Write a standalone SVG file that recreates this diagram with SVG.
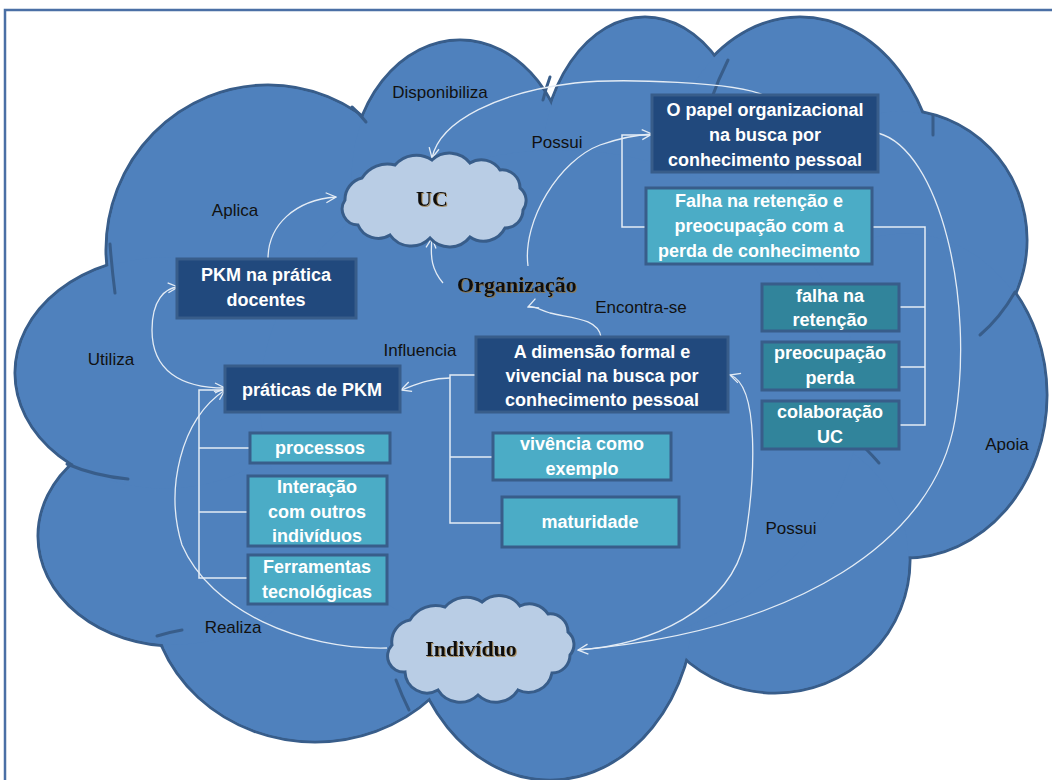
<svg xmlns="http://www.w3.org/2000/svg" width="1052" height="780" viewBox="0 0 1052 780">
  <style>
    .lobe-edge { fill: #4F81BD; stroke: #385D8A; stroke-width: 3; }
    .lobe-fill { fill: #4F81BD; stroke: none; }
    .seam { fill: none; stroke: #385D8A; stroke-width: 3; stroke-linecap: round; }
    .small-cloud { fill: #B9CDE5; stroke: #385D8A; stroke-width: 3; }
    .box-dark { fill: #21497D; stroke: #385D8A; stroke-width: 3; }
    .box-aqua { fill: #4BACC6; stroke: #385D8A; stroke-width: 3; }
    .box-teal { fill: #31849B; stroke: #385D8A; stroke-width: 3; }
    .box-text { font-family: "Liberation Sans", Arial, sans-serif; font-weight: bold; font-size: 18px; fill: #FFFFFF; text-anchor: middle; }
    .label { font-family: "Liberation Sans", Arial, sans-serif; font-size: 17px; fill: #111111; text-anchor: middle; }
    .cloud-label { font-family: "Liberation Serif", "Times New Roman", serif; font-weight: bold; font-size: 22px; fill: #111111; text-anchor: middle; }
    .tree { fill: none; stroke: #E4ECF5; stroke-width: 1.5; }
    .flow { fill: none; stroke: #E4ECF5; stroke-width: 1.3; marker-end: url(#open-arrow); }
  </style>
  <defs>
    <marker id="open-arrow" viewBox="0 0 12 12" refX="11" refY="6" markerWidth="12" markerHeight="12" markerUnits="userSpaceOnUse" orient="auto-start-reverse">
      <path d="M1,1 L11,6 L1,11" fill="none" stroke="#E4ECF5" stroke-width="1.3"/>
    </marker>
    <filter id="warm-shadow" x="-10%" y="-20%" width="130%" height="150%">
      <feDropShadow dx="1" dy="1" stdDeviation="0.6" flood-color="#9C7434" flood-opacity="0.7"/>
    </filter>
  </defs>

  <rect x="0" y="0" width="1052" height="780" fill="#FFFFFF"/>
  <!-- frame -->
  <path d="M5,780 V10 H1052" fill="none" stroke="#4A6FA5" stroke-width="2.5"/>

  <!-- large background cloud: outlined lobes, then their fills to merge the interior -->
  <g id="big-cloud">
    <g>
      <ellipse class="lobe-edge" cx="268" cy="250" rx="162" ry="165"/>
      <ellipse class="lobe-edge" cx="460" cy="180" rx="110" ry="140"/>
      <ellipse class="lobe-edge" cx="645" cy="170" rx="105" ry="153"/>
      <ellipse class="lobe-edge" cx="800" cy="200" rx="140" ry="183"/>
      <ellipse class="lobe-edge" cx="900" cy="240" rx="127" ry="130"/>
      <ellipse class="lobe-edge" cx="905" cy="395" rx="142" ry="163"/>
      <ellipse class="lobe-edge" cx="775" cy="560" rx="135" ry="133"/>
      <ellipse class="lobe-edge" cx="550" cy="600" rx="145" ry="180"/>
      <ellipse class="lobe-edge" cx="315" cy="590" rx="165" ry="152"/>
      <ellipse class="lobe-edge" cx="175" cy="536" rx="137" ry="110"/>
      <ellipse class="lobe-edge" cx="165" cy="373" rx="150" ry="117"/>
    </g>
    <g>
      <ellipse class="lobe-fill" cx="268" cy="250" rx="160.5" ry="163.5"/>
      <ellipse class="lobe-fill" cx="460" cy="180" rx="108.5" ry="138.5"/>
      <ellipse class="lobe-fill" cx="645" cy="170" rx="103.5" ry="151.5"/>
      <ellipse class="lobe-fill" cx="800" cy="200" rx="138.5" ry="181.5"/>
      <ellipse class="lobe-fill" cx="900" cy="240" rx="125.5" ry="128.5"/>
      <ellipse class="lobe-fill" cx="905" cy="395" rx="140.5" ry="161.5"/>
      <ellipse class="lobe-fill" cx="775" cy="560" rx="133.5" ry="131.5"/>
      <ellipse class="lobe-fill" cx="550" cy="600" rx="143.5" ry="178.5"/>
      <ellipse class="lobe-fill" cx="315" cy="590" rx="163.5" ry="150.5"/>
      <ellipse class="lobe-fill" cx="175" cy="536" rx="135.5" ry="108.5"/>
      <ellipse class="lobe-fill" cx="165" cy="373" rx="148.5" ry="115.5"/>
      <ellipse class="lobe-fill" cx="560" cy="400" rx="300" ry="250"/>
    </g>
    <!-- inner seams where lobes meet -->
    <path class="seam" d="M352,107 Q360,114 366,122"/>
    <path class="seam" d="M550,77 Q546,88 543,100"/>
    <path class="seam" d="M728,60 Q718,80 711,100"/>
    <path class="seam" d="M933,115 L933,135"/>
    <path class="seam" d="M1015,292 Q1000,318 980,335"/>
    <path class="seam" d="M110,244 Q112,270 115,293"/>
    <path class="seam" d="M67,464 Q95,476 128,479"/>
    <path class="seam" d="M157,636 Q170,632 182,630"/>
    <path class="seam" d="M396,680 Q402,696 409,710"/>
    <path class="seam" d="M866,449 Q872,455 879,463"/>
  </g>

  <!-- connectors -->
  <g id="connectors">
    <path class="tree" d="M652,135 H622 V227 H646"/>
    <path class="tree" d="M872,227 H925 V425 H899 M899,307 H925 M899,367 H925"/>
    <path class="tree" d="M476,375 H450 V523 H502 M450,457 H493"/>
    <path class="tree" d="M225,390 H199 V578 H248 M199,448 H250 M199,512 H248"/>

    <path class="flow" d="M765,96 C740,82 620,78 575,83 C500,92 440,120 432,158"/>
    <path class="flow" d="M528,266 C522,220 560,160 600,145 C620,138 635,135 652,134"/>
    <path class="flow" d="M268,259 C268,225 295,200 336,197"/>
    <path class="flow" d="M443,283 C432,270 430,258 432,238"/>
    <path class="flow" d="M601,337 C598,318 570,318 550,313 C540,310 533,305 528,307"/>
    <path class="flow" d="M450,378 C430,378 415,385 401,390"/>
    <path class="flow" d="M178,287 C165,288 152,300 152,330 C152,370 180,388 225,388" marker-start="url(#open-arrow)"/>
    <path class="flow" d="M387,648 C300,650 210,610 182,545 C165,490 180,420 225,390"/>
    <path class="flow" d="M878,133 C940,150 975,300 955,420 C935,540 800,630 578,650"/>
    <path class="flow" d="M578,650 C650,645 730,610 745,540 C755,480 760,385 730,375"/>
  </g>

  <!-- connector labels -->
  <g id="labels">
    <text class="label" x="440" y="98">Disponibiliza</text>
    <text class="label" x="557" y="148">Possui</text>
    <text class="label" x="235" y="216">Aplica</text>
    <text class="label" x="641" y="313">Encontra-se</text>
    <text class="label" x="420" y="356">Influencia</text>
    <text class="label" x="111" y="365">Utiliza</text>
    <text class="label" x="1007" y="450">Apoia</text>
    <text class="label" x="791" y="534">Possui</text>
    <text class="label" x="233" y="633">Realiza</text>
  </g>

  <g id="node-uc">
    <path class="small-cloud" d="M345,200 A22,22 0 0 1 362,178 A30,30 0 0 1 395,165 A28,28 0 0 1 432,160 A26,26 0 0 1 470,163 A22,22 0 0 1 500,170 A18,18 0 0 1 520,188 A16,16 0 0 1 523,210 A18,18 0 0 1 505,228 A24,24 0 0 1 470,237 A26,26 0 0 1 430,238 A26,26 0 0 1 390,235 A22,22 0 0 1 358,225 A16,16 0 0 1 345,200 Z"/>
    <text class="cloud-label" x="432" y="206" filter="url(#warm-shadow)">UC</text>
  </g>

  <g id="node-organizacao">
    <text class="cloud-label" x="517" y="292" filter="url(#warm-shadow)">Organização</text>
  </g>

  <g id="node-individuo">
    <path class="small-cloud" d="M392,645 A22,22 0 0 1 410,620 A30,30 0 0 1 445,607 A28,28 0 0 1 482,602 A26,26 0 0 1 520,606 A22,22 0 0 1 548,614 A18,18 0 0 1 568,632 A16,16 0 0 1 570,655 A18,18 0 0 1 552,673 A24,24 0 0 1 518,690 A26,26 0 0 1 478,695 A26,26 0 0 1 438,690 A22,22 0 0 1 405,672 A16,16 0 0 1 392,645 Z"/>
    <text class="cloud-label" x="471" y="656" filter="url(#warm-shadow)">Indivíduo</text>
  </g>

  <g id="node-papel">
    <rect class="box-dark" x="652" y="95" width="226" height="77"/>
    <text class="box-text" x="765" y="116">O papel organizacional</text>
    <text class="box-text" x="765" y="141">na busca por</text>
    <text class="box-text" x="765" y="166">conhecimento pessoal</text>
  </g>

  <g id="node-falha">
    <rect class="box-aqua" x="646" y="188" width="226" height="76"/>
    <text class="box-text" x="759" y="207">Falha na retenção e</text>
    <text class="box-text" x="759" y="232">preocupação com a</text>
    <text class="box-text" x="759" y="257">perda de conhecimento</text>
  </g>

  <g id="node-pkm-docentes">
    <rect class="box-dark" x="177" y="259" width="179" height="59"/>
    <text class="box-text" x="266" y="281">PKM na prática</text>
    <text class="box-text" x="266" y="306">docentes</text>
  </g>

  <g id="node-praticas">
    <rect class="box-dark" x="225" y="366" width="175" height="46"/>
    <text class="box-text" x="312" y="396">práticas de PKM</text>
  </g>

  <g id="node-dimensao">
    <rect class="box-dark" x="476" y="337" width="252" height="75"/>
    <text class="box-text" x="602" y="358">A dimensão formal e</text>
    <text class="box-text" x="602" y="382">vivencial na busca por</text>
    <text class="box-text" x="602" y="406">conhecimento pessoal</text>
  </g>

  <g id="node-vivencia">
    <rect class="box-aqua" x="493" y="433" width="178" height="47"/>
    <text class="box-text" x="582" y="450">vivência como</text>
    <text class="box-text" x="582" y="475">exemplo</text>
  </g>

  <g id="node-maturidade">
    <rect class="box-aqua" x="502" y="497" width="177" height="50"/>
    <text class="box-text" x="590" y="528">maturidade</text>
  </g>

  <g id="node-processos">
    <rect class="box-aqua" x="250" y="433" width="140" height="30"/>
    <text class="box-text" x="320" y="454">processos</text>
  </g>

  <g id="node-interacao">
    <rect class="box-aqua" x="248" y="476" width="139" height="70"/>
    <text class="box-text" x="317" y="493">Interação</text>
    <text class="box-text" x="317" y="518">com outros</text>
    <text class="box-text" x="317" y="542">indivíduos</text>
  </g>

  <g id="node-ferramentas">
    <rect class="box-aqua" x="248" y="555" width="139" height="49"/>
    <text class="box-text" x="317" y="573">Ferramentas</text>
    <text class="box-text" x="317" y="598">tecnológicas</text>
  </g>

  <g id="node-falha-retencao">
    <rect class="box-teal" x="762" y="284" width="137" height="47"/>
    <text class="box-text" x="830" y="302">falha na</text>
    <text class="box-text" x="830" y="326">retenção</text>
  </g>

  <g id="node-preocupacao">
    <rect class="box-teal" x="762" y="342" width="137" height="48"/>
    <text class="box-text" x="830" y="359">preocupação</text>
    <text class="box-text" x="830" y="384">perda</text>
  </g>

  <g id="node-colaboracao">
    <rect class="box-teal" x="762" y="401" width="137" height="48"/>
    <text class="box-text" x="830" y="418">colaboração</text>
    <text class="box-text" x="830" y="443">UC</text>
  </g>
</svg>
